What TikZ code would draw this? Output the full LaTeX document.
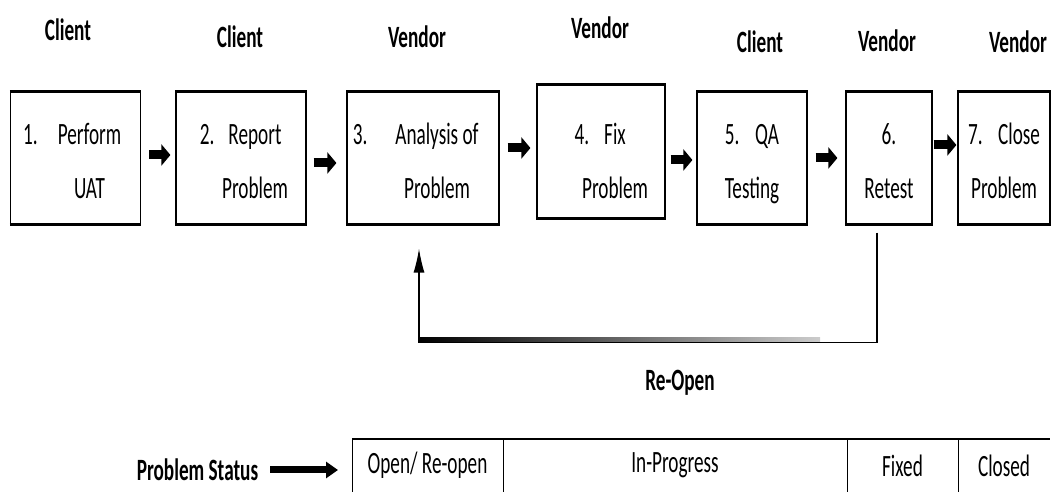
\documentclass[tikz,border=0pt]{standalone}
\usepackage{fontspec}
\setmainfont{Carlito}[FakeStretch=0.62]
\usetikzlibrary{arrows.meta,positioning}
\tikzset{
   stage/.style={ rectangle, draw=black, line width=1.2pt, inner sep=0pt, minimum height=132pt, font=\fontsize{31}{54}\selectfont},
   role/.style={ inner sep=0pt, font=\fontsize{31}{36}\selectfont\bfseries},
   cell/.style={ rectangle, inner sep=0pt, outer sep=0pt, minimum height=53pt, font=\fontsize{31}{36}\selectfont},
   flow/.style={ line width=9pt, -{Triangle[length=9pt,width=21pt]}},
   reopen/.style={ line width=1.2pt, -{Latex[length=24pt,width=11pt]}, shorten <=8pt, shorten >=24pt},
   >=latex
}
\newcommand{\stagetext}[5][-3pt]{\hspace*{28pt}\raisebox{#1}[\height][\depth]{\begin{tabular}{@{}c@{}}\llap{#2\hspace{#3}}#4\\#5\end{tabular}}}
\newcommand{\stagelines}[3][-3pt]{\raisebox{#1}[\height][\depth]{\begin{tabular}{@{}c@{}}#2\\#3\end{tabular}}}

\begin{document}
\begin{tikzpicture}[x=1pt, y=1pt]
  \useasboundingbox (0,0) rectangle (1051,492);

  \node[role] at (68,462)  (who1) {Client};
  \node[role] at (240,455) (who2) {Client};
  \node[role] at (417,455) (who3) {Vendor};
  \node[role] at (600,464) (who4) {Vendor};
  \node[role] at (760,450) (who5) {Client};
  \node[role] at (887,451) (who6) {Vendor};
  \node[role] at (1018,450) (who7) {Vendor};

  \node[stage, minimum width=130pt] at (75.5,334) (uat)      {\stagetext{1.}{20pt}{Perform}{UAT}};
  \node[stage, minimum width=130pt] at (241,334)  (report)   {\stagetext{2.}{14pt}{Report}{Problem}};
  \node[stage, minimum width=152pt] at (423,334)  (analysis) {\stagetext{3.}{28pt}{Analysis of}{Problem}};
  \node[stage, minimum width=128pt, minimum height=133pt] at (601,340.5) (fix) {\stagetext[-9pt]{4.}{15pt}{Fix}{Problem}};
  \node[stage, minimum width=110pt] at (752,334)  (qa)       {\stagelines{5.\enspace QA}{Testing}};
  \node[stage, minimum width=86pt]  at (889,334)  (retest)   {\stagelines{6.}{Retest}};
  \node[stage, minimum width=92pt]  at (1004,334) (close)    {\stagelines{7.\enspace Close}{Problem}};

  \foreach \b in {uat,report,analysis,fix,qa,retest,close}
    \draw[line width=2.6pt] (\b.north west) -- (\b.north east) (\b.south west) -- (\b.south east);

  \draw[flow, shorten <=8pt, shorten >=5pt]  ([yshift=3pt]uat.east) -- ([yshift=3pt]report.west);
  \draw[flow, shorten <=7pt, shorten >=10pt] ([yshift=-5pt]report.east) -- ([yshift=-5pt]analysis.west);
  \draw[flow, shorten <=8pt, shorten >=6pt]  ([yshift=10pt]analysis.east) -- ([yshift=3.5pt]fix.west);
  \draw[flow, shorten <=5pt, shorten >=4pt]  ([yshift=-8.5pt]fix.east) -- ([yshift=-2pt]qa.west);
  \draw[flow, shorten <=8pt, shorten >=8pt]  (qa.east) -- (retest.west);
  \draw[flow, shorten <=1pt, shorten >=1pt]  ([yshift=13pt]retest.east) -- ([yshift=13pt]close.west);

  \shade[left color=black, right color=black!20] (419,150) rectangle (820,154.5);
  \draw[reopen] ([xshift=-12pt]retest.south) -- ++(0,-118) -| ([xshift=-4pt]analysis.south);
  \node[role] at (680,109) (reopen label) {Re-Open};

  \node[role] at (197.5,22) (status) {Problem Status};
  \node[cell, minimum width=151pt] at (427.5,26.5) (open) {Open/ Re-open};
  \node[cell, minimum width=344pt, right=0pt of open]     (progress) {In-Progress};
  \node[cell, minimum width=111pt, right=0pt of progress] (fixed)    {Fixed};
  \node[cell, minimum width=92pt,  right=0pt of fixed]    (closed)   {Closed};

  \draw[line width=2pt] (open.north west) -- (closed.north east);
  \draw[line width=1pt] (open.north west) -- (open.south west)
                        (open.north east) -- (open.south east)
                        (progress.north east) -- (progress.south east)
                        (fixed.north east) -- (fixed.south east);

  \draw[line width=7pt, -{Triangle[length=12pt,width=16pt]}, shorten <=12pt, shorten >=14pt] (status.east) -- (status.east -| open.west);

\end{tikzpicture}
\end{document}
